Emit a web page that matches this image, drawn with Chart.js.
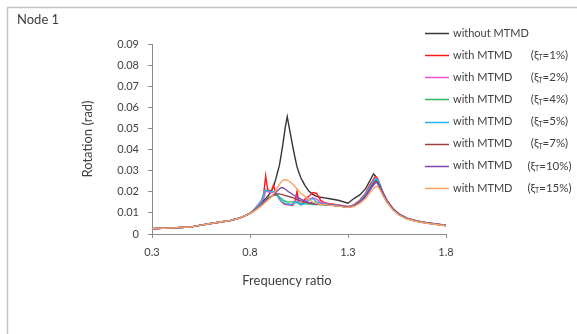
<!DOCTYPE html>
<html>
<head>
<meta charset="utf-8">
<script src="https://cdn.jsdelivr.net/npm/chart.js@4.4.0/dist/chart.umd.min.js"></script>
<style>
  html, body { margin: 0; padding: 0; background: #fff; }
  #wrap { width: 577px; height: 334px; position: relative; }
</style>
</head>
<body>
<div id="wrap"><canvas id="node1" width="577" height="334"></canvas></div>
<script>
"use strict";

// frequency ratio grid shared by all series
const freq = [0.3, 0.35, 0.4, 0.45, 0.5, 0.55, 0.6, 0.65, 0.7, 0.75, 0.8,
  0.82, 0.84, 0.86, 0.87, 0.88, 0.89, 0.9, 0.91, 0.92, 0.93, 0.94, 0.95, 0.96, 0.97, 0.98, 0.99,
  1.0, 1.01, 1.02, 1.03, 1.04, 1.05, 1.06, 1.07, 1.08,
  1.1, 1.12, 1.14, 1.16, 1.18, 1.2, 1.25, 1.3,
  1.33, 1.36, 1.39, 1.41, 1.43, 1.44, 1.45, 1.46,
  1.48, 1.5, 1.53, 1.56, 1.6, 1.65, 1.7, 1.75, 1.8];

const withoutMTMD = [0.0025, 0.0027, 0.0029, 0.0031, 0.0034, 0.0042, 0.005, 0.0057, 0.0064, 0.0076, 0.0098,
  0.0112, 0.013, 0.015, 0.016, 0.0168, 0.0178, 0.019, 0.0205, 0.0225, 0.0255, 0.029, 0.0325, 0.038, 0.044, 0.0505, 0.0556,
  0.0505, 0.0455, 0.0405, 0.036, 0.0318, 0.029, 0.0265, 0.0248, 0.023,
  0.0203, 0.0188, 0.0178, 0.0174, 0.0171, 0.0168, 0.016, 0.0146,
  0.0168, 0.0185, 0.0215, 0.025, 0.0285, 0.0275, 0.0248, 0.0222,
  0.0182, 0.015, 0.0117, 0.0094, 0.0075, 0.0062, 0.0054, 0.0048, 0.0042];

const mtmd1 = [0.0025, 0.0027, 0.0029, 0.0031, 0.0034, 0.0042, 0.005, 0.0057, 0.0064, 0.0076, 0.0098,
  0.0115, 0.0137, 0.016, 0.019, 0.0275, 0.021, 0.0205, 0.0205, 0.0232, 0.0195, 0.0185, 0.0165, 0.0155, 0.0145, 0.014, 0.0138,
  0.014, 0.0135, 0.0137, 0.016, 0.0202, 0.0145, 0.0138, 0.0152, 0.0165,
  0.0178, 0.0196, 0.0192, 0.016, 0.0148, 0.0145, 0.0138, 0.013,
  0.0138, 0.016, 0.0195, 0.023, 0.026, 0.0272, 0.0265, 0.024,
  0.0195, 0.0158, 0.012, 0.0095, 0.0075, 0.0062, 0.0054, 0.0048, 0.0041];

const mtmd2 = [0.0025, 0.0027, 0.0029, 0.0031, 0.0034, 0.0042, 0.005, 0.0057, 0.0064, 0.0076, 0.0098,
  0.0114, 0.0135, 0.0155, 0.017, 0.0205, 0.02, 0.0198, 0.0195, 0.02, 0.0192, 0.018, 0.0165, 0.0155, 0.0148, 0.0145, 0.0143,
  0.0142, 0.014, 0.0145, 0.0155, 0.017, 0.015, 0.0143, 0.015, 0.0158,
  0.0165, 0.0172, 0.0165, 0.015, 0.0145, 0.0142, 0.0136, 0.0128,
  0.0136, 0.0158, 0.019, 0.0225, 0.0255, 0.0265, 0.026, 0.0238,
  0.0192, 0.0156, 0.0119, 0.0094, 0.0074, 0.0061, 0.0053, 0.0047, 0.004];

const mtmd4 = [0.0025, 0.0027, 0.0029, 0.0031, 0.0034, 0.0042, 0.005, 0.0057, 0.0064, 0.0076, 0.0098,
  0.011, 0.0125, 0.014, 0.015, 0.016, 0.0168, 0.0175, 0.018, 0.0184, 0.0186, 0.0182, 0.0175, 0.0168, 0.016, 0.0155, 0.0153,
  0.0152, 0.0152, 0.0152, 0.015, 0.0148, 0.0146, 0.0145, 0.0144, 0.0143,
  0.0142, 0.0141, 0.014, 0.0139, 0.0138, 0.0137, 0.0133, 0.0126,
  0.0133, 0.0152, 0.0182, 0.0212, 0.0242, 0.0252, 0.0252, 0.0235,
  0.019, 0.0155, 0.0118, 0.0094, 0.0074, 0.0061, 0.0053, 0.0047, 0.004];

const mtmd5 = [0.0025, 0.0027, 0.0029, 0.0031, 0.0034, 0.0042, 0.005, 0.0057, 0.0064, 0.0076, 0.0098,
  0.0113, 0.0133, 0.016, 0.019, 0.0208, 0.0205, 0.0202, 0.02, 0.02, 0.0198, 0.0188, 0.0168, 0.0158, 0.015, 0.0145, 0.0142,
  0.014, 0.0138, 0.0142, 0.0148, 0.0155, 0.0142, 0.0138, 0.014, 0.0145,
  0.0162, 0.0168, 0.0152, 0.0145, 0.0142, 0.014, 0.0135, 0.0128,
  0.0135, 0.0156, 0.0188, 0.022, 0.025, 0.0262, 0.026, 0.024,
  0.0192, 0.0156, 0.0119, 0.0094, 0.0074, 0.0061, 0.0053, 0.0047, 0.004];

const mtmd7 = [0.0025, 0.0027, 0.0029, 0.0031, 0.0034, 0.0042, 0.005, 0.0057, 0.0064, 0.0076, 0.0098,
  0.011, 0.0125, 0.014, 0.015, 0.0158, 0.0165, 0.0172, 0.0178, 0.0183, 0.0187, 0.019, 0.019, 0.0188, 0.0185, 0.0182, 0.018,
  0.0177, 0.0174, 0.0171, 0.0168, 0.0164, 0.016, 0.0157, 0.0154, 0.0151,
  0.0147, 0.0144, 0.0142, 0.014, 0.0139, 0.0138, 0.0134, 0.0127,
  0.0133, 0.0152, 0.018, 0.021, 0.024, 0.025, 0.0248, 0.0232,
  0.0189, 0.0154, 0.0118, 0.0093, 0.0073, 0.006, 0.0052, 0.0046, 0.004];

const mtmd10 = [0.0025, 0.0027, 0.0029, 0.0031, 0.0034, 0.0042, 0.005, 0.0057, 0.0064, 0.0076, 0.0098,
  0.0108, 0.0122, 0.0138, 0.0147, 0.0155, 0.0163, 0.0172, 0.018, 0.0188, 0.0197, 0.0205, 0.0213, 0.022, 0.0218, 0.0212, 0.0205,
  0.0198, 0.0192, 0.0186, 0.018, 0.0175, 0.017, 0.0165, 0.016, 0.0156,
  0.015, 0.0146, 0.0143, 0.0141, 0.0139, 0.0137, 0.0133, 0.0127,
  0.0132, 0.015, 0.0176, 0.0205, 0.0232, 0.0242, 0.0242, 0.0228,
  0.0187, 0.0152, 0.0116, 0.0092, 0.0072, 0.006, 0.0052, 0.0046, 0.0039];

const mtmd15 = [0.0025, 0.0027, 0.0029, 0.0031, 0.0034, 0.0042, 0.005, 0.0057, 0.0064, 0.0076, 0.0098,
  0.0107, 0.012, 0.0135, 0.0143, 0.0152, 0.016, 0.0168, 0.0178, 0.019, 0.0205, 0.022, 0.0235, 0.0248, 0.0255, 0.0257, 0.0255,
  0.025, 0.0243, 0.0234, 0.0224, 0.0213, 0.0203, 0.0193, 0.0185, 0.0178,
  0.0163, 0.0152, 0.0145, 0.0141, 0.0139, 0.0137, 0.0132, 0.0125,
  0.013, 0.0145, 0.0168, 0.0193, 0.0215, 0.0225, 0.0226, 0.0215,
  0.018, 0.0148, 0.0112, 0.009, 0.0071, 0.0059, 0.0051, 0.0045, 0.0039];

const seriesLabels = ['without MTMD', 'with MTMD', 'with MTMD', 'with MTMD', 'with MTMD',
  'with MTMD', 'with MTMD', 'with MTMD'];
const dampingRatios = ['', '1%', '2%', '4%', '5%', '7%', '10%', '15%'];
const seriesValues = [withoutMTMD, mtmd1, mtmd2, mtmd4, mtmd5, mtmd7, mtmd10, mtmd15];
const seriesColors = ['#363636', '#ff1a1a', '#f050d0', '#30b860', '#20b4ee', '#a04040', '#7a4bb5', '#f9a465'];

const xTickLabels = ['0.3', '0.8', '1.3', '1.8'];
const yTickLabels = ['0', '0.01', '0.02', '0.03', '0.04', '0.05', '0.06', '0.07', '0.08', '0.09'];

const FONT = 'Lato, "Open Sans", sans-serif';
const TEXT = '#404040';

// frame, titles and the legend the way the spreadsheet draws them
const sheetDecor = {
  id: 'sheetDecor',
  afterDraw(chart) {
    const c = chart.ctx;
    const area = chart.chartArea;
    c.save();
    c.strokeStyle = '#c4c4c4';
    c.lineWidth = 1.5;
    c.beginPath();
    c.moveTo(7.5, 334);
    c.lineTo(7.5, 7.5);
    c.lineTo(577, 7.5);
    c.stroke();

    c.fillStyle = TEXT;
    c.font = '13px ' + FONT;
    c.textBaseline = 'middle';
    c.textAlign = 'left';
    c.fillText('Node 1', 17, 20);

    c.textAlign = 'center';
    c.fillText('Frequency ratio', 287, 281);
    c.save();
    c.translate(88, (area.top + area.bottom) / 2);
    c.rotate(-Math.PI / 2);
    c.fillText('Rotation (rad)', 0, 0);
    c.restore();

    // legend
    c.font = '11px ' + FONT;
    seriesLabels.forEach(function (name, i) {
      const y = 33 + i * 22.15;
      c.strokeStyle = seriesColors[i];
      c.lineWidth = 1.5;
      c.beginPath();
      c.moveTo(425, Math.round(y) + 0.5);
      c.lineTo(449, Math.round(y) + 0.5);
      c.stroke();
      c.fillStyle = TEXT;
      c.textAlign = 'left';
      c.fillText(name, 453, y);
      if (dampingRatios[i]) {
        const a = '(\u03BE', b = 'T', d = '=' + dampingRatios[i] + ')';
        c.font = '11.5px ' + FONT;
        const wa = c.measureText(a).width, wd = c.measureText(d).width;
        c.font = '7px ' + FONT;
        const wb = c.measureText(b).width;
        let x = 549.5 - (wa + wb + wd) / 2;
        c.font = '11.5px ' + FONT;
        c.fillText(a, x, y);
        x += wa;
        c.font = '7px ' + FONT;
        c.fillText(b, x, y + 3);
        x += wb;
        c.font = '11.5px ' + FONT;
        c.fillText(d, x, y);
        c.font = '11px ' + FONT;
      }
    });
    c.restore();
  }
};

const ctx = document.getElementById('node1').getContext('2d');

new Chart(ctx, {
  type: 'line',
  data: {
    datasets: seriesValues.map(function (vals, i) {
      return {
        label: seriesLabels[i] + (dampingRatios[i] ? ' ' + dampingRatios[i] : ''),
        data: vals.map(function (v, k) { return { x: freq[k], y: v }; }),
        borderColor: seriesColors[i],
        backgroundColor: seriesColors[i],
        borderWidth: 1.4,
        pointRadius: 0,
        tension: 0,
        fill: false,
        order: seriesValues.length - 1 - i
      };
    })
  },
  options: {
    responsive: false,
    animation: false,
    events: [],
    layout: { padding: { left: 0, top: 44, right: 131, bottom: 0 } },
    plugins: {
      legend: { display: false },
      tooltip: { enabled: false }
    },
    scales: {
      x: {
        type: 'linear',
        min: 0.3,
        max: 1.8,
        afterFit: function (s) { s.height = 100; },
        border: { display: true, color: '#8c8c8c', width: 1 },
        grid: { display: true, drawOnChartArea: false, drawTicks: true, tickLength: 4, color: '#8c8c8c' },
        ticks: {
          stepSize: 0.5,
          padding: 8,
          maxRotation: 0,
          color: TEXT,
          font: { family: FONT, size: 11 },
          callback: function (v, i) { return xTickLabels[i] !== undefined ? xTickLabels[i] : v.toFixed(1); }
        }
      },
      y: {
        min: 0,
        max: 0.09,
        afterFit: function (s) { s.width = 152; },
        border: { display: true, color: '#8c8c8c', width: 1 },
        grid: { display: true, drawOnChartArea: false, drawTicks: true, tickLength: 4, color: '#8c8c8c' },
        ticks: {
          stepSize: 0.01,
          padding: 9,
          color: TEXT,
          font: { family: FONT, size: 11 },
          callback: function (v, i) { return yTickLabels[i] !== undefined ? yTickLabels[i] : String(v); }
        }
      }
    }
  },
  plugins: [sheetDecor]
});
</script>
</body>
</html>
